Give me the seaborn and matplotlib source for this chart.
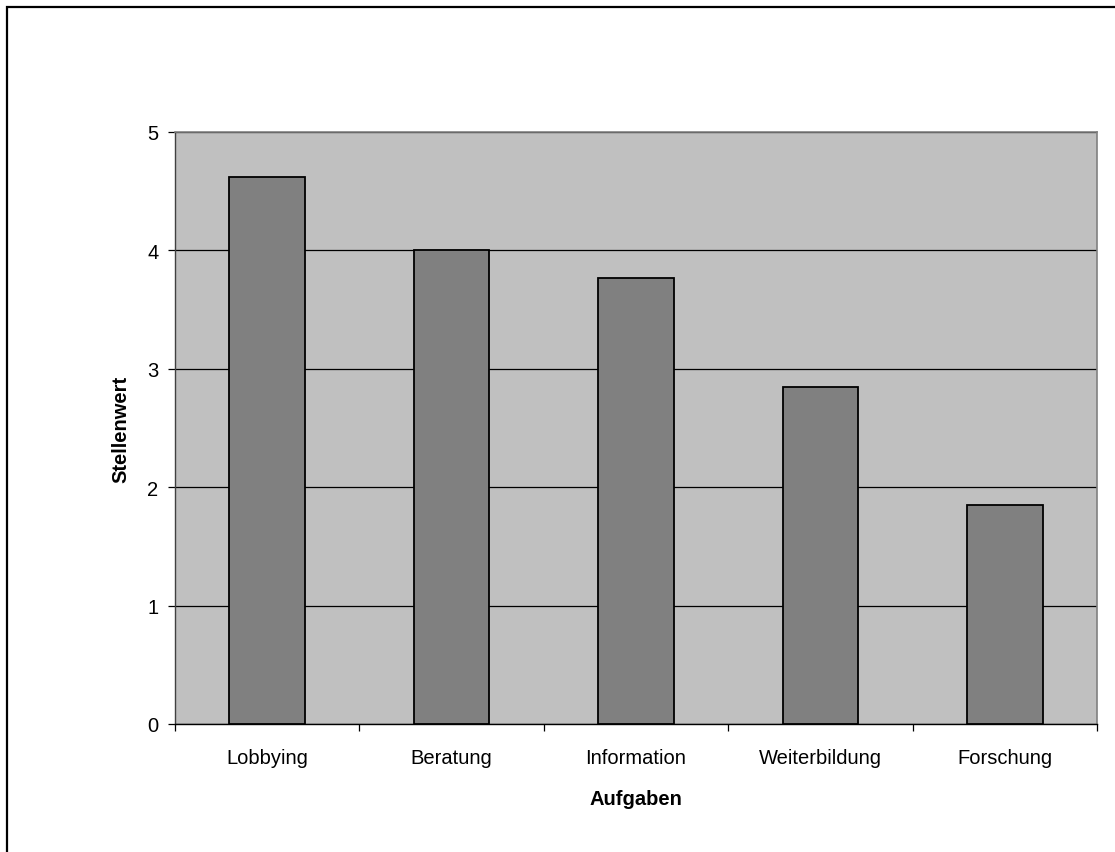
import matplotlib
matplotlib.use("Agg")
import matplotlib.pyplot as plt
from matplotlib.patches import Rectangle
import seaborn as sns
import pandas as pd

categories = ["Lobbying", "Beratung", "Information", "Weiterbildung", "Forschung"]
values = [4.62, 4.0, 3.77, 2.85, 1.85]

sns.set_style("white")
plt.rcParams["font.family"] = ["Liberation Sans", "DejaVu Sans"]
plt.rcParams["text.color"] = "black"
plt.rcParams["axes.labelcolor"] = "black"
plt.rcParams["xtick.color"] = "black"
plt.rcParams["ytick.color"] = "black"

df = pd.DataFrame({"Aufgaben": categories, "Stellenwert": values})

fig = plt.figure(figsize=(11.15, 8.53), dpi=100)
ax = fig.add_axes([175 / 1115, 1 - 725 / 853, (1097 - 175) / 1115, (725 - 133) / 853])
ax.set_facecolor("#C0C0C0")

sns.barplot(data=df, x="Aufgaben", y="Stellenwert", color="#808080",
            edgecolor="black", linewidth=1.3, width=0.41, saturation=1, ax=ax, zorder=3)

ax.set_ylim(0, 5)
ax.set_xlim(-0.5, len(categories) - 0.5)
ax.set_yticks(range(0, 6))
ax.yaxis.grid(True, color="black", linewidth=0.9, zorder=1)
ax.set_axisbelow(True)

fs = 14.5

# category ticks sit between the groups; labels stay centered
ax.set_xticks([i - 0.5 for i in range(len(categories) + 1)], minor=False)
ax.set_xticklabels([""] * (len(categories) + 1))
ax.set_xticks(range(len(categories)), minor=True)
ax.set_xticklabels(categories, minor=True, fontsize=fs)
ax.tick_params(axis="x", which="minor", bottom=False, length=0, pad=17)
ax.tick_params(axis="x", which="major", bottom=True, direction="out", length=5, width=0.9, color="black")
ax.tick_params(axis="y", left=True, direction="out", length=5, width=0.9, color="black", labelsize=fs, pad=7)

for side in ["top", "right"]:
    ax.spines[side].set_color("#808080")
    ax.spines[side].set_linewidth(1.2)
ax.spines["left"].set_color("#404040")
ax.spines["bottom"].set_color("black")
for side in ["left", "bottom"]:
    ax.spines[side].set_linewidth(1.0)

ax.set_xlabel("Aufgaben", fontsize=fs, fontweight="bold", labelpad=16)
ax.set_ylabel("Stellenwert", fontsize=fs, fontweight="bold", labelpad=12)

# outer frame around the chart area
fig.patches.append(Rectangle((7 / 1115, -0.05), 1.1, 1 - 8 / 853 + 0.05,
                             transform=fig.transFigure, fill=False,
                             edgecolor="black", linewidth=1.6))

fig.savefig("out.png", dpi=100, facecolor="white")
